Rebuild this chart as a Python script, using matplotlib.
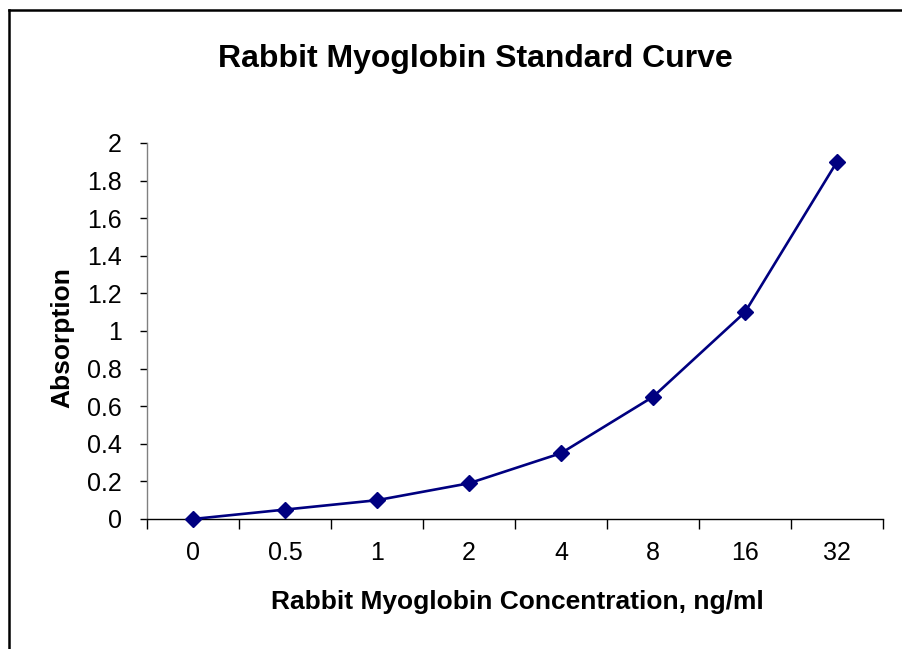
import matplotlib
matplotlib.use("Agg")
import matplotlib.pyplot as plt
from matplotlib.lines import Line2D

plt.rcParams['font.family'] = ['Liberation Sans', 'DejaVu Sans']

# data
categories = ["0", "0.5", "1", "2", "4", "8", "16", "32"]
absorption = [0.0, 0.05, 0.10, 0.19, 0.35, 0.65, 1.10, 1.90]
y_ticks = [0, 0.2, 0.4, 0.6, 0.8, 1.0, 1.2, 1.4, 1.6, 1.8, 2.0]
y_tick_labels = ["0", "0.2", "0.4", "0.6", "0.8", "1", "1.2", "1.4", "1.6", "1.8", "2"]

fig = plt.figure(figsize=(9.02, 6.49), dpi=100)
ax = fig.add_axes([147 / 902, 1 - 519 / 649, (883 - 147) / 902, (519 - 143) / 649])

x = list(range(len(categories)))
ax.plot(x, absorption, color='#000080', linewidth=1.9, marker='D',
        markersize=8.5, markerfacecolor='#000080', markeredgecolor='#000080',
        clip_on=False, zorder=3)

ax.set_xlim(-0.5, len(categories) - 0.5)
ax.set_ylim(0, 2)

ax.set_xticks(x)
ax.set_xticklabels(categories, fontsize=18)
ax.set_xticks([i - 0.5 for i in range(len(categories) + 1)], minor=True)
ax.tick_params(axis='x', which='major', length=0, pad=16)
ax.tick_params(axis='x', which='minor', length=7, width=1, color='black', direction='out')

ax.set_yticks(y_ticks)
ax.set_yticklabels(y_tick_labels, fontsize=18)
ax.tick_params(axis='y', length=5, width=1, color='black', direction='out', pad=13)

for side in ('top', 'right'):
    ax.spines[side].set_visible(False)
ax.spines['left'].set_color('#808080')
ax.spines['bottom'].set_color('black')
ax.spines['left'].set_linewidth(1)
ax.spines['bottom'].set_linewidth(1)

fig.text(475 / 902, 1 - 59 / 649, "Rabbit Myoglobin Standard Curve",
         fontsize=23, fontweight='bold', ha='center', va='center')
fig.text(517 / 902, 1 - 602 / 649, "Rabbit Myoglobin Concentration, ng/ml",
         fontsize=19, fontweight='bold', ha='center', va='center')
fig.text(62 / 902, 1 - 338 / 649, "Absorption", rotation=90,
         fontsize=19, fontweight='bold', ha='center', va='center')

# chart area border (partially outside the image)
fig.add_artist(Line2D([9 / 902, 1.0], [1 - 10 / 649, 1 - 10 / 649],
                      transform=fig.transFigure, color='black', linewidth=1.8))
fig.add_artist(Line2D([9 / 902, 9 / 902], [0.0, 1 - 10 / 649],
                      transform=fig.transFigure, color='black', linewidth=1.8))

fig.savefig("out.png", dpi=100)
